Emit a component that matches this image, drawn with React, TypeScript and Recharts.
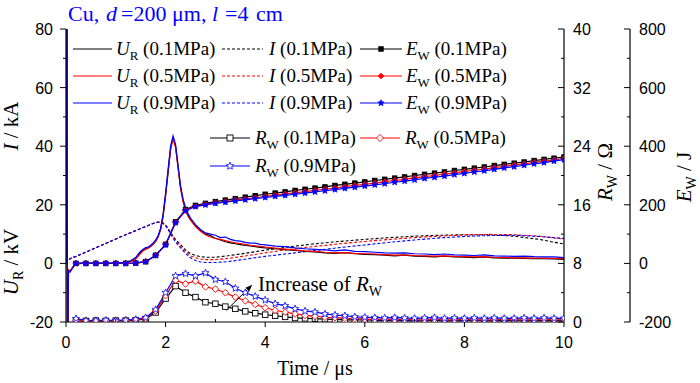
import React from 'react';
import { ComposedChart, Line, XAxis, YAxis, ReferenceLine } from 'recharts';

// ---------- data ----------
const pressures = ['0.1MPa', '0.5MPa', '0.9MPa'];
const colors = ['#000000', '#ff0000', '#0000ff'];

const uTime = [0, 0.02, 0.03, 0.05, 0.08, 0.12, 0.16, 0.2, 0.3, 0.4,
  0.6, 0.8, 1.0, 1.2, 1.3, 1.4, 1.45, 1.5, 1.55, 1.6,
  1.65, 1.7, 1.75, 1.8, 1.85, 1.9, 1.95, 2.0, 2.05, 2.1,
  2.15, 2.2, 2.25, 2.3, 2.35, 2.4, 2.45, 2.5, 2.6, 2.7,
  2.8, 2.9, 3.0, 3.1, 3.2, 3.3, 3.4, 3.5, 3.6, 3.7,
  3.8, 3.9, 4.0, 4.2, 4.4, 4.6, 4.8, 5.0, 5.2, 5.4,
  5.6, 5.8, 6.0, 6.2, 6.4, 6.6, 6.8, 7.0, 7.2, 7.4,
  7.6, 7.8, 8.0, 8.2, 8.4, 8.6, 8.8, 9.0, 9.2, 9.4,
  9.6, 9.8, 10];
const uR01 = [0, 100, -40, -2.5, -2.8, -1.8, -0.8, -0.3, 0, 0,
  0, 0, 0.1, 0.3, 0.8, 1.8, 2.8, 3.8, 4.6, 5.0,
  5.3, 5.8, 6.5, 7.5, 9.0, 11.5, 16, 23, 31, 39,
  43, 40, 33, 26, 21.5, 18.5, 16.5, 15, 12.8, 11.3,
  10.0, 9.5, 8.6, 8.0, 7.4, 7.0, 6.7, 6.4, 6.1, 6.0,
  5.7, 5.5, 5.3, 5.0, 4.7, 4.4, 4.1, 3.9, 3.6, 3.4,
  3.7, 3.3, 3.1, 3.0, 2.8, 2.6, 2.8, 2.5, 2.4, 2.2,
  2.5, 2.2, 2.1, 2.0, 2.2, 1.9, 1.8, 1.8, 1.7, 1.6,
  1.6, 1.5, 1.4];
const uR05 = [0, 100, -40, -2.2, -2.6, -1.6, -0.7, -0.2, 0, 0,
  0, 0, 0.1, 0.3, 0.6, 1.5, 2.4, 3.4, 4.3, 4.8,
  5.2, 5.8, 6.6, 7.6, 9.2, 11.8, 16.5, 23.5, 31.5, 39,
  42.5, 39.5, 32.5, 25.5, 21, 18, 16, 14.8, 12.6, 11.0,
  9.8, 9.0, 8.5, 8.2, 7.8, 7.4, 7.0, 6.8, 6.5, 6.2,
  6.0, 5.8, 5.6, 5.2, 4.9, 4.6, 4.3, 4.1, 3.8, 3.6,
  3.7, 3.4, 3.3, 3.2, 3.0, 2.8, 2.9, 2.7, 2.6, 2.5,
  2.6, 2.4, 2.3, 2.2, 2.3, 2.1, 2.0, 1.9, 1.9, 1.8,
  1.8, 1.7, 1.6];
const uR09 = [0, 100, -40, -2.6, -3.0, -1.9, -0.8, -0.2, 0, 0,
  0, 0, 0.1, 0.4, 0.9, 2.0, 3.2, 4.2, 4.8, 5.4,
  5.6, 6.2, 7.0, 8.0, 9.5, 12.0, 16.8, 24, 32, 40,
  43.5, 40.5, 33.5, 26.5, 22, 19, 17, 15.5, 13.2, 11.6,
  10.4, 10.0, 9.6, 8.8, 9.0, 8.2, 7.8, 7.6, 7.2, 6.9,
  6.9, 6.5, 6.3, 5.9, 5.7, 5.3, 5.0, 4.8, 4.6, 4.3,
  4.6, 4.1, 4.0, 3.8, 3.6, 3.5, 3.6, 3.3, 3.2, 3.0,
  3.2, 2.9, 2.8, 2.7, 2.9, 2.6, 2.5, 2.4, 2.5, 2.3,
  2.2, 2.2, 2.0];

const iTime = [0, 0.05, 0.1, 0.2, 0.3, 0.5, 0.7, 0.9, 1.1, 1.3,
  1.5, 1.6, 1.7, 1.8, 1.85, 1.9, 1.95, 2.0, 2.05, 2.1,
  2.15, 2.2, 2.3, 2.4, 2.5, 2.6, 2.7, 2.8, 3.0, 3.25,
  3.5, 4.0, 4.5, 5.0, 5.5, 6.0, 6.5, 7.0, 7.5, 8.0,
  8.5, 9.0, 9.5, 10];
const i01 = [0, 1.2, 1.8, 2.4, 3.1, 4.6, 6.1, 7.6, 9.1, 10.5,
  11.9, 12.6, 13.3, 13.9, 14.1, 14.1, 13.8, 13.1, 12.0, 10.6,
  9.3, 8.2, 6.4, 4.6, 3.3, 2.7, 2.3, 2.1, 2.1, 2.6,
  3.2, 4.5, 5.7, 6.7, 7.5, 8.2, 8.8, 9.3, 9.6, 9.8,
  9.8, 9.3, 8.2, 6.6];
const i05 = [0, 1.2, 1.8, 2.4, 3.1, 4.6, 6.1, 7.6, 9.1, 10.5,
  11.9, 12.6, 13.3, 13.9, 14.1, 14.0, 13.7, 13.0, 11.8, 10.3,
  9.0, 7.8, 5.9, 4.0, 2.6, 1.9, 1.5, 1.3, 1.3, 1.7,
  2.3, 3.6, 4.8, 5.8, 6.7, 7.5, 8.2, 8.8, 9.3, 9.7,
  9.9, 9.8, 9.3, 8.3];
const i09 = [0, 1.2, 1.8, 2.4, 3.1, 4.6, 6.1, 7.6, 9.1, 10.5,
  11.9, 12.6, 13.3, 13.9, 14.0, 13.9, 13.6, 12.9, 11.6, 10.0,
  8.6, 7.3, 5.3, 3.4, 1.9, 1.0, 0.5, 0.3, 0.3, 0.6,
  1.2, 2.4, 3.4, 4.4, 5.4, 6.3, 7.2, 8.0, 8.7, 9.2,
  9.5, 9.6, 9.2, 8.5];

const gridTime = [0.2, 0.4, 0.6, 0.8, 1.0, 1.2, 1.4, 1.6, 1.8, 2.0,
  2.2, 2.4, 2.6, 2.8, 3.0, 3.2, 3.4, 3.6, 3.8, 4.0,
  4.2, 4.4, 4.6, 4.8, 5.0, 5.2, 5.4, 5.6, 5.8, 6.0,
  6.2, 6.4, 6.6, 6.8, 7.0, 7.2, 7.4, 7.6, 7.8, 8.0,
  8.2, 8.4, 8.6, 8.8, 9.0, 9.2, 9.4, 9.6, 9.8, 10];
const eW01 = [0, 0, 0, 0, 0, 0, 1, 6, 28, 65,
  142, 184, 198, 205, 211, 216, 221, 226, 231, 236,
  240, 244, 249, 253, 257, 261, 266, 270, 274, 278,
  283, 287, 291, 295, 300, 304, 308, 312, 317, 321,
  325, 329, 334, 338, 342, 346, 351, 355, 359, 363];
const eW05 = [0, 0, 0, 0, 0, 0, 1, 6, 27, 64,
  140, 181, 195, 202, 207, 211, 216, 220, 224, 229,
  233, 237, 241, 245, 249, 253, 257, 262, 266, 270,
  274, 279, 283, 287, 292, 296, 300, 305, 309, 314,
  318, 322, 327, 331, 336, 340, 345, 349, 353, 358];
const eW09 = [0, 0, 0, 0, 0, 0, 1, 6, 27, 63,
  139, 180, 194, 200, 205, 209, 213, 217, 221, 225,
  229, 232, 236, 240, 244, 248, 252, 256, 260, 264,
  268, 272, 277, 281, 285, 290, 294, 298, 303, 307,
  312, 316, 321, 326, 330, 335, 340, 344, 349, 354];
const rW01 = [0.2, 0.15, 0.2, 0.15, 0.2, 0.2, 0.25, 0.4, 1.3, 3.2,
  4.9, 4.0, 3.4, 2.7, 2.5, 2.1, 1.8, 1.45, 1.2, 1.0,
  0.85, 0.7, 0.55, 0.5, 0.45, 0.4, 0.35, 0.3, 0.3, 0.28,
  0.25, 0.2, 0.25, 0.2, 0.22, 0.2, 0.25, 0.2, 0.22, 0.2,
  0.25, 0.2, 0.22, 0.2, 0.25, 0.2, 0.22, 0.2, 0.2, 0.22];
const rW05 = [0.2, 0.2, 0.15, 0.2, 0.2, 0.25, 0.3, 0.5, 1.5, 3.6,
  5.7, 5.2, 5.6, 4.8, 4.5, 4.0, 3.4, 2.9, 2.4, 1.95,
  1.6, 1.35, 1.1, 0.9, 0.8, 0.65, 0.6, 0.5, 0.45, 0.4,
  0.35, 0.35, 0.3, 0.35, 0.3, 0.3, 0.35, 0.3, 0.3, 0.35,
  0.3, 0.3, 0.3, 0.35, 0.3, 0.3, 0.3, 0.35, 0.3, 0.3];
const rW09 = [0.45, 0.2, 0.2, 0.25, 0.2, 0.25, 0.35, 0.6, 1.7, 4.0,
  6.3, 6.6, 6.3, 6.7, 5.8, 5.5, 4.6, 4.0, 3.5, 3.0,
  2.5, 2.2, 1.8, 1.5, 1.35, 1.1, 0.95, 0.85, 0.7, 0.65,
  0.6, 0.55, 0.6, 0.55, 0.5, 0.55, 0.6, 0.5, 0.55, 0.5,
  0.55, 0.5, 0.55, 0.5, 0.5, 0.55, 0.5, 0.55, 0.5, 0.5];

const xTicks = [0, 1, 2, 3, 4, 5, 6, 7, 8, 9, 10];
const leftTicks = [-20, -10, 0, 10, 20, 30, 40, 50, 60, 70, 80];
const rTicks = [0, 4, 8, 12, 16, 20, 24, 28, 32, 36, 40];
const eTicks = [-200, -100, 0, 100, 200, 300, 400, 500, 600, 700, 800];

const arrowFrom = { x: 3.22, y: -16 };
const arrowTo = { x: 3.74, y: -7.3 };

// ---------- build tables ----------
const zip = (ts: number[], vs: number[]) => ts.map((t, k) => ({ t, v: vs[k] }));
const uSeries = [uR01, uR05, uR09].map((v) => zip(uTime, v));
const iSeries = [i01, i05, i09].map((v) => zip(iTime, v));
const eSeries = [eW01, eW05, eW09].map((v) => zip(gridTime, v));
const rSeries = [rW01, rW05, rW09].map((v) => zip(gridTime, v));

// ---------- styling ----------
const SANS = "'Liberation Sans', Arial, Helvetica, sans-serif";
const SERIF = "'Liberation Serif', 'Times New Roman', Times, serif";
const serifStyle = { fontFamily: SERIF, whiteSpace: 'pre' as const };
const sansStyle = { fontFamily: SANS };
const NB = '\u00A0';

const starPoints = (cx: number, cy: number, r: number) => {
  const pts: string[] = [];
  for (let k = 0; k < 10; k++) {
    const a = -Math.PI / 2 + (k * Math.PI) / 5;
    const rr = k % 2 === 0 ? r : r * 0.45;
    pts.push(`${(cx + rr * Math.cos(a)).toFixed(2)},${(cy + rr * Math.sin(a)).toFixed(2)}`);
  }
  return pts.join(' ');
};

const Marker = ({ shape, cx, cy, color, filled, size }: any) => {
  const fill = filled ? color : '#fff';
  if (shape === 'square') {
    const h = size / 2;
    return <rect x={cx - h} y={cy - h} width={size} height={size} fill={fill} stroke={color} strokeWidth={0.9} />;
  }
  if (shape === 'diamond') {
    const h = size / 2 + 0.6;
    return <polygon points={`${cx},${cy - h} ${cx + h},${cy} ${cx},${cy + h} ${cx - h},${cy}`} fill={fill} stroke={color} strokeWidth={0.9} />;
  }
  return <polygon points={starPoints(cx, cy, size / 2 + 1)} fill={fill} stroke={color} strokeWidth={0.8} />;
};

const shapes = ['square', 'diamond', 'star'];

const makeDot = (shape: string, color: string, filled: boolean, size: number) => (p: any) => {
  const { cx, cy, index } = p;
  if (cx == null || cy == null) return <g key={`n${index}`} />;
  return (
    <g key={`d${index}`}>
      <Marker shape={shape} cx={cx} cy={cy} color={color} filled={filled} size={size} />
    </g>
  );
};

// ---------- ticks ----------
const BottomTick = (p: any) => {
  const { x, y, payload } = p;
  const v = payload.value;
  const major = v % 2 === 0;
  return (
    <g>
      <line x1={x} x2={x} y1={y} y2={major ? y + 5 : y - 3} stroke="#000" strokeWidth={1} />
      {major && (
        <text x={x} y={y + 26} textAnchor="middle" fontSize={16} style={sansStyle} fill="#000">{v}</text>
      )}
    </g>
  );
};
const TopTick = (p: any) => {
  const { x, y, payload } = p;
  const major = payload.value % 2 === 0;
  return <line x1={x} x2={x} y1={y} y2={y + (major ? 5 : 3)} stroke="#000" strokeWidth={1} />;
};
const LeftTick = (p: any) => {
  const { x, y, payload } = p;
  const v = payload.value;
  const major = v % 20 === 0;
  return (
    <g>
      <line x1={x} x2={x - (major ? 6 : 3)} y1={y} y2={y} stroke="#000" strokeWidth={1} />
      {major && (
        <text x={x - 13} y={y + 6} textAnchor="end" fontSize={16} style={sansStyle} fill="#000">{v}</text>
      )}
    </g>
  );
};
const makeRightTick = (step: number) => (p: any) => {
  const { x, y, payload } = p;
  const v = payload.value;
  const major = v % step === 0;
  return (
    <g>
      <line x1={x} x2={x - (major ? 6 : 3)} y1={y} y2={y} stroke="#000" strokeWidth={1} />
      {major && (
        <text x={x + 9} y={y + 6} textAnchor="start" fontSize={16} style={sansStyle} fill="#000">{v}</text>
      )}
    </g>
  );
};
const RTick = makeRightTick(8);
const ETick = makeRightTick(200);

const ArrowShape = (p: any) => {
  const { x1, y1, x2, y2 } = p;
  const a = Math.atan2(y2 - y1, x2 - x1);
  const L = 7;
  const W = 2.6;
  const bx = x2 - L * Math.cos(a);
  const by = y2 - L * Math.sin(a);
  const px = -Math.sin(a) * W;
  const py = Math.cos(a) * W;
  return (
    <g>
      <line x1={x1} y1={y1} x2={bx} y2={by} stroke="#000" strokeWidth={1} />
      <polygon points={`${x2},${y2} ${bx + px},${by + py} ${bx - px},${by - py}`} fill="#000" />
    </g>
  );
};

// ---------- legend (overlay) ----------
const LegendLabel = ({ x, y, main, sub, rest, size = 19 }: any) => (
  <text x={x} y={y} fontSize={size} fill="#000" style={serifStyle}>
    <tspan fontStyle="italic">{main}</tspan>
    {sub ? <tspan fontSize={size * 0.68} dy={5}>{sub}</tspan> : null}
    <tspan dy={sub ? -5 : 0}>{`${NB}${rest}`}</tspan>
  </text>
);

const legendRows = [49, 76, 103];
const rwRows = [[210, 138], [360, 138], [210, 166]];

const Overlay = () => (
  <svg width={700} height={383} style={{ position: 'absolute', left: 0, top: 0, pointerEvents: 'none' }}>
    <text y={21} fontSize={22} fill="#0000ff" style={serifStyle}>
      <tspan x={68}>Cu,</tspan>
      <tspan x={106} fontStyle="italic">d</tspan>
      <tspan x={121}>=200</tspan>
      <tspan x={172}>μm,</tspan>
      <tspan x={212} fontStyle="italic">l</tspan>
      <tspan x={225}>=4</tspan>
      <tspan x={256}>cm</tspan>
    </text>
    {pressures.map((pr, k) => {
      const y = legendRows[k];
      const c = colors[k];
      return (
        <g key={pr}>
          <line x1={73} x2={112} y1={y} y2={y} stroke={c} strokeWidth={1.2} />
          <LegendLabel x={116} y={y + 6} main="U" sub="R" rest={`(${pr})`} />
          <line x1={222} x2={263} y1={y} y2={y} stroke={c} strokeWidth={1.2} strokeDasharray="3 2" />
          <LegendLabel x={269} y={y + 6} main="I" rest={`(${pr})`} />
          <line x1={360} x2={402} y1={y} y2={y} stroke={c} strokeWidth={1.2} />
          <Marker shape={shapes[k]} cx={381} cy={y} color={c} filled size={4.5} />
          <LegendLabel x={406} y={y + 6} main="E" sub="W" rest={`(${pr})`} />
        </g>
      );
    })}
    {pressures.map((pr, k) => {
      const [x, y] = rwRows[k];
      const c = colors[k];
      return (
        <g key={`rw${pr}`}>
          <line x1={x} x2={x + 40} y1={y} y2={y} stroke={c} strokeWidth={1.2} />
          <Marker shape={shapes[k]} cx={x + 20} cy={y} color={c} filled={false} size={6} />
          <LegendLabel x={x + 45} y={y + 6} main="R" sub="W" rest={`(${pr})`} />
        </g>
      );
    })}
    <text x={258} y={291} fontSize={21} fill="#000" style={serifStyle}>
      <tspan>{`Increase${NB}of${NB}`}</tspan>
      <tspan fontStyle="italic">R</tspan>
      <tspan fontSize={14} dy={5}>W</tspan>
    </text>
    <text x={315} y={375} textAnchor="middle" fontSize={20} fill="#000" style={serifStyle}>{`Time${NB}/${NB}μs`}</text>
    <text transform="translate(18,262) rotate(-90)" textAnchor="middle" fontSize={21} fill="#000" style={serifStyle}>
      <tspan fontStyle="italic">U</tspan>
      <tspan fontSize={14} dy={5}>R</tspan>
      <tspan dy={-5}>{`${NB}/${NB}kV`}</tspan>
    </text>
    <text transform="translate(18,126) rotate(-90)" textAnchor="middle" fontSize={21} fill="#000" style={serifStyle}>
      <tspan fontStyle="italic">I</tspan>
      <tspan>{`${NB}/${NB}kA`}</tspan>
    </text>
    <text transform="translate(612,172) rotate(-90)" textAnchor="middle" fontSize={21} fill="#000" style={serifStyle}>
      <tspan fontStyle="italic">R</tspan>
      <tspan fontSize={14} dy={5}>W</tspan>
      <tspan dy={-5}>{`${NB}/${NB}Ω`}</tspan>
    </text>
    <text transform="translate(691,177) rotate(-90)" textAnchor="middle" fontSize={21} fill="#000" style={serifStyle}>
      <tspan fontStyle="italic">E</tspan>
      <tspan fontSize={14} dy={5}>W</tspan>
      <tspan dy={-5}>{`${NB}/${NB}J`}</tspan>
    </text>
  </svg>
);

export default function App() {
  return (
    <div style={{ position: 'absolute', left: 0, top: 0, width: 700, height: 383, background: '#fff' }}>
      <ComposedChart width={700} height={383} margin={{ top: 29, right: 0, bottom: 0, left: 0 }}>
        <XAxis xAxisId="x" dataKey="t" type="number" domain={[0, 10]} ticks={xTicks} interval={0}
          allowDataOverflow height={61} tickSize={0} tickMargin={0} tick={BottomTick}
          axisLine={{ stroke: '#000', strokeWidth: 1.2 }} tickLine={false} />
        <XAxis xAxisId="top" orientation="top" dataKey="t" type="number" domain={[0, 10]} ticks={xTicks} interval={0}
          allowDataOverflow height={0} tickSize={0} tickMargin={0} tick={TopTick}
          axisLine={{ stroke: '#000', strokeWidth: 1.2 }} tickLine={false} />
        <YAxis yAxisId="L" type="number" domain={[-20, 80]} ticks={leftTicks} interval={0} allowDataOverflow
          width={66} tickSize={0} tickMargin={0} tick={LeftTick}
          axisLine={{ stroke: '#000', strokeWidth: 1.2 }} tickLine={false} />
        <YAxis yAxisId="r1" orientation="right" type="number" domain={[0, 40]} ticks={rTicks} interval={0} allowDataOverflow
          width={66} tickSize={0} tickMargin={0} tick={RTick}
          axisLine={{ stroke: '#000', strokeWidth: 1.2 }} tickLine={false} />
        <YAxis yAxisId="r2" orientation="right" type="number" domain={[-200, 800]} ticks={eTicks} interval={0} allowDataOverflow
          width={70} tickSize={0} tickMargin={0} tick={ETick}
          axisLine={{ stroke: '#000', strokeWidth: 1.2 }} tickLine={false} />

        {iSeries.map((d, k) => (
          <Line key={`i${k}`} data={d} dataKey="v" xAxisId="x" yAxisId="L" type="linear"
            stroke={colors[k]} strokeWidth={1.1} strokeDasharray="3 2" dot={false} activeDot={false}
            isAnimationActive={false} />
        ))}
        {uSeries.map((d, k) => (
          <Line key={`u${k}`} data={d} dataKey="v" xAxisId="x" yAxisId="L" type="linear"
            stroke={colors[k]} strokeWidth={1.2} dot={false} activeDot={false}
            isAnimationActive={false} />
        ))}
        {eSeries.map((d, k) => (
          <Line key={`e${k}`} data={d} dataKey="v" xAxisId="x" yAxisId="r2" type="linear"
            stroke={colors[k]} strokeWidth={1.2} dot={makeDot(shapes[k], colors[k], true, 4.5)} activeDot={false}
            isAnimationActive={false} />
        ))}
        {rSeries.map((d, k) => (
          <Line key={`r${k}`} data={d} dataKey="v" xAxisId="x" yAxisId="r1" type="linear"
            stroke={colors[k]} strokeWidth={1.2} dot={makeDot(shapes[k], colors[k], false, 5.5)} activeDot={false}
            isAnimationActive={false} />
        ))}
        <ReferenceLine xAxisId="x" yAxisId="L" segment={[arrowFrom, arrowTo]} shape={ArrowShape} />
      </ComposedChart>
      <Overlay />
    </div>
  );
}
